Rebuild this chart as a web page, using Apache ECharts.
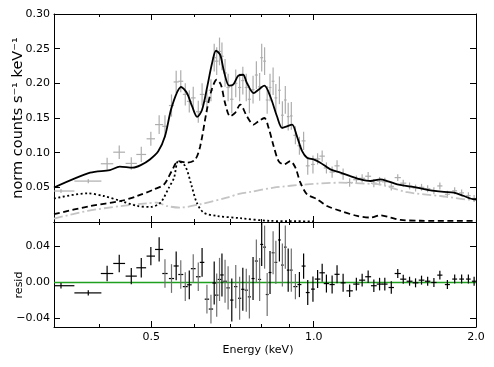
<!DOCTYPE html>
<html>
<head>
<meta charset="utf-8">
<script src="https://cdn.jsdelivr.net/npm/echarts@6/dist/echarts.min.js"></script>
<style>
  html, body { margin: 0; padding: 0; background: #fff; }
  #chart { width: 494px; height: 367px; }
</style>
</head>
<body>
<div id="chart"></div>
<script>
// spectrum bins (keV), half widths
const energy = [0.340,0.382,0.414,0.436,0.459,0.479,0.499,0.517,
  0.530,0.545,0.556,0.567,0.578,0.588,0.598,0.611,0.621,0.634,0.645,
  0.654,0.661,0.669,0.676,0.685,0.694,0.705,0.717,0.729,0.739,0.750,0.760,0.772,0.783,0.794,0.801,0.811,0.820,0.830,0.841,0.851,0.864,0.875,0.886,0.897,0.909,
  0.925,0.941,0.958,0.975,0.997,
  1.017,1.037,1.056,1.082,1.105,1.134,
  1.166,1.200,1.230,1.262,1.293,1.325,1.355,1.393,
  1.432,1.466,1.506,1.545,1.585,1.627,1.671,1.714,1.770,1.826,1.881,1.936,1.984];
const energyErr = [0.020,0.022,0.011,0.011,0.011,0.010,0.009,0.009,
  0.006,0.006,0.006,0.006,0.006,0.006,0.006,0.006,0.006,0.006,0.006,
  0.005,0.005,0.005,0.005,0.005,0.005,0.005,0.005,0.005,0.005,0.005,0.005,0.005,0.005,0.005,0.005,0.005,0.005,0.005,0.005,0.005,0.005,0.005,0.005,0.005,0.005,
  0.008,0.008,0.008,0.008,0.008,
  0.012,0.012,0.012,0.012,0.012,0.012,
  0.016,0.016,0.016,0.016,0.016,0.016,0.016,0.016,
  0.019,0.019,0.019,0.019,0.019,0.019,0.019,0.019,0.019,0.019,0.019,0.019,0.019];

// norm counts s^-1 keV^-1
const counts = [0.0447,0.059,0.084,0.1007,0.0845,0.0974,0.120,0.1405,
  0.138,0.168,0.202,0.203,0.184,0.174,0.179,0.159,0.184,0.174,0.190,
  0.237,0.232,0.246,0.239,0.215,0.194,0.177,0.200,0.194,0.204,0.194,0.177,0.191,0.212,0.195,0.237,0.232,0.176,0.194,0.203,0.179,0.190,0.154,0.176,0.152,0.153,
  0.125,0.110,0.117,0.081,0.083,
  0.091,0.095,0.078,0.072,0.081,0.069,
  0.057,0.061,0.063,0.066,0.056,0.059,0.058,0.0515,
  0.064,0.056,0.052,0.049,0.050,0.048,0.045,0.052,0.040,0.045,0.042,0.038,0.034];
const countsErr = [0.003,0.003,0.0086,0.0097,0.009,0.011,0.010,0.0135,
  0.016,0.016,0.016,0.016,0.016,0.016,0.016,0.016,0.016,0.016,0.016,
  0.020,0.020,0.020,0.020,0.020,0.020,0.020,0.020,0.020,0.020,0.020,0.020,0.020,0.020,0.020,0.020,0.020,0.020,0.020,0.020,0.020,0.020,0.020,0.020,0.020,0.020,
  0.013,0.013,0.013,0.013,0.013,
  0.008,0.008,0.008,0.008,0.008,0.008,
  0.006,0.006,0.006,0.006,0.006,0.006,0.006,0.006,
  0.005,0.005,0.005,0.005,0.005,0.005,0.005,0.005,0.005,0.005,0.005,0.005,0.005];

// residuals
const resid = [-0.004,-0.012,0.0096,0.0208,0.0067,0.016,0.029,0.0364,
  0.0096,0.004,0.018,0.0085,-0.005,-0.003,0.015,0.006,0.022,-0.019,-0.030,
  -0.001,-0.0145,0.003,0.008,0.001,-0.0064,-0.020,-0.005,-0.018,-0.008,-0.009,-0.0164,0.004,0.0235,0.003,0.042,0.039,-0.0138,0.0107,0.0327,0.022,0.047,0.019,0.039,0.0134,0.0134,
  -0.005,-0.0027,0.0179,-0.0116,-0.0078,
  0.0034,0.0104,-0.0016,-0.0027,0.0087,-0.0008,
  -0.0097,-0.0022,0.0022,0.006,-0.004,-0.0022,-0.0022,-0.006,
  0.0096,0.0033,0.001,-0.0008,0.0022,0.001,-0.0004,0.0078,-0.0027,0.0034,0.0034,0.0034,0.001];
const residErr = [0.003,0.003,0.0087,0.0097,0.009,0.0108,0.0102,0.0135,
  0.016,0.016,0.016,0.016,0.016,0.016,0.016,0.016,0.016,0.016,0.016,
  0.024,0.024,0.024,0.024,0.024,0.024,0.024,0.024,0.024,0.024,0.024,0.024,0.024,0.024,0.024,0.024,0.024,0.024,0.024,0.024,0.024,0.024,0.024,0.024,0.024,0.024,
  0.014,0.014,0.014,0.014,0.014,
  0.010,0.010,0.010,0.010,0.010,0.010,
  0.007,0.007,0.007,0.007,0.007,0.007,0.007,0.007,
  0.005,0.005,0.005,0.005,0.005,0.005,0.005,0.005,0.005,0.005,0.005,0.005,0.005];

// model components
const totalE = [0.330,0.385,0.419,0.437,0.462,0.478,0.497,0.515,0.530,0.546,0.568,0.582,0.595,0.608,0.621,0.635,0.648,0.659,0.671,0.682,0.697,0.709,0.725,0.740,0.752,0.774,0.790,0.810,0.831,0.855,0.874,0.892,0.912,0.931,0.952,0.972,1.000,1.029,1.074,1.121,1.170,1.221,1.275,1.330,1.369,1.429,1.491,1.556,1.647,1.744,1.820,1.900,1.983,2.000];
const totalV = [0.0496,0.0711,0.0749,0.0798,0.0783,0.082,0.0902,0.102,0.1237,0.1668,0.1947,0.186,0.167,0.1516,0.162,0.1956,0.229,0.247,0.241,0.217,0.1966,0.198,0.211,0.2124,0.2004,0.186,0.1908,0.1966,0.181,0.1525,0.1358,0.138,0.1405,0.1237,0.1021,0.0927,0.0902,0.0855,0.0759,0.0711,0.0662,0.0615,0.0591,0.0615,0.0591,0.0543,0.0519,0.0496,0.0457,0.0433,0.0424,0.0375,0.0328,0.0328];
const dashedE = [0.330,0.385,0.439,0.471,0.506,0.528,0.5455,0.561,0.582,0.603,0.616,0.634,0.647,0.661,0.673,0.685,0.700,0.715,0.731,0.752,0.774,0.790,0.810,0.825,0.843,0.861,0.880,0.905,0.925,0.945,0.972,1.015,1.059,1.121,1.204,1.275,1.330,1.388,1.449,1.579,2.000];
const dashedV = [0.0112,0.023,0.0303,0.0375,0.0471,0.0543,0.0734,0.0878,0.0855,0.090,0.1093,0.162,0.1908,0.2052,0.198,0.1717,0.1525,0.1573,0.1693,0.1525,0.1405,0.1453,0.150,0.1358,0.1093,0.0878,0.083,0.0878,0.0783,0.0567,0.040,0.0328,0.0231,0.016,0.0088,0.0064,0.0097,0.0064,0.003,0.0018,0.0016];
const dottedE = [0.330,0.381,0.408,0.439,0.471,0.499,0.520,0.539,0.551,0.561,0.578,0.594,0.607,0.625,0.661,0.731,0.831,1.000];
const dottedV = [0.0338,0.0414,0.0375,0.0303,0.0231,0.0217,0.028,0.0496,0.0639,0.0878,0.0806,0.0519,0.028,0.0136,0.0088,0.0055,0.0016,0.001];
const dashDotE = [0.330,0.381,0.439,0.492,0.512,0.535,0.565,0.616,0.690,0.731,0.763,0.843,0.972,1.121,1.275,1.330,1.491,1.720,1.983,2.000];
const dashDotV = [0.005,0.016,0.023,0.027,0.028,0.023,0.0208,0.0256,0.0352,0.041,0.0433,0.0496,0.0543,0.0567,0.055,0.054,0.043,0.0375,0.032,0.032];

// axis ticks (keV)
const xRange = [0.33, 2.0];
const xMajorTicks = [0.5, 1.0, 2.0];
const xMinorTicks = [0.4, 0.6, 0.7, 0.8, 0.9];
const residTicks = [-0.04, 0, 0.04];

// energy axis is logarithmic: positions go through log10
const lg = Math.log10;
const font = { fontFamily: 'DejaVu Sans', fontSize: 11, color: '#000' };
const line = (xs, ys) => xs.map((x, i) => [lg(x), ys[i]]);

function errorBars(colorFn) {
    return function (params, api) {
        const x = api.value(0), y = api.value(1);
        const x0 = api.value(2), x1 = api.value(3), dy = api.value(4);
        const l = api.coord([x0, y]), r = api.coord([x1, y]);
        const b = api.coord([x, y - dy]), t = api.coord([x, y + dy]);
        const c = colorFn(params.dataIndex, Math.pow(10, x));
        return {
            type: 'group',
            children: [
                { type: 'line', shape: { x1: l[0], y1: l[1], x2: r[0], y2: r[1] }, style: { stroke: c.h, lineWidth: 1.2 } },
                { type: 'line', shape: { x1: b[0], y1: b[1], x2: t[0], y2: t[1] }, style: { stroke: c.v, lineWidth: 1.2 } }
            ]
        };
    };
}

function xAxis(grid, position, minor, extra) {
    return Object.assign({
        type: 'value', min: lg(xRange[0]), max: lg(xRange[1]), gridIndex: grid, position: position,
        axisLine: { show: !minor, onZero: false, lineStyle: { color: '#000', width: 1 } },
        axisTick: { inside: true, length: minor ? 3 : 6, lineStyle: { color: '#000' },
                    customValues: (minor ? xMinorTicks : xMajorTicks).map(lg) },
        axisLabel: { show: false },
        splitLine: { show: false }
    }, extra || {});
}

function yAxis(grid, position, extra) {
    return Object.assign({
        type: 'value', gridIndex: grid, position: position,
        axisLine: { show: true, onZero: false, lineStyle: { color: '#000', width: 1 } },
        axisTick: { inside: true, length: 6, lineStyle: { color: '#000' } },
        axisLabel: { show: false },
        splitLine: { show: false }
    }, extra || {});
}

const topY = { min: 0, max: 0.30, interval: 0.05 };
const resY = { min: -0.05, max: 0.067 };
const resTick = { inside: true, length: 6, lineStyle: { color: '#000' }, customValues: residTicks };
const resFmt = v => (v < 0 ? '\u2212' + (-v).toFixed(2) : v.toFixed(2));

const chart = echarts.init(document.getElementById('chart'));
chart.setOption({
    animation: false,
    grid: [
        { left: 54, right: 18, top: 14, height: 208, containLabel: false, outerBoundsMode: 'none' },
        { left: 54, right: 18, top: 222, height: 105, containLabel: false, outerBoundsMode: 'none' }
    ],
    xAxis: [
        xAxis(0, 'bottom', false),
        xAxis(0, 'top', false),
        xAxis(1, 'bottom', false, {
            axisLabel: Object.assign({ show: true, margin: 5, customValues: xMajorTicks.map(lg),
                formatter: v => Math.pow(10, v).toFixed(1) }, font),
            name: '{t|Energy (keV)}', nameLocation: 'middle', nameGap: 18, nameMoveOverlap: false,
            nameTextStyle: { rich: { t: Object.assign({ padding: [0, 14, 0, 0] }, font) } }
        }),
        xAxis(1, 'top', false),
        xAxis(0, 'bottom', true),
        xAxis(0, 'top', true),
        xAxis(1, 'bottom', true),
        xAxis(1, 'top', true)
    ],
    yAxis: [
        yAxis(0, 'left', Object.assign({}, topY, {
            axisLabel: Object.assign({ show: true, margin: 4, showMinLabel: false,
                formatter: v => v.toFixed(2) }, font),
            name: 'norm counts s\u207B\u00B9 keV\u207B\u00B9', nameLocation: 'middle', nameGap: 28,
            nameMoveOverlap: false,
            nameTextStyle: Object.assign({}, font, { fontSize: 14.5 })
        })),
        yAxis(0, 'right', topY),
        yAxis(1, 'left', Object.assign({}, resY, {
            axisTick: resTick,
            axisLabel: Object.assign({ show: true, margin: 4, customValues: residTicks, formatter: resFmt }, font),
            name: 'resid', nameLocation: 'middle', nameGap: 29, nameMoveOverlap: false,
            nameTextStyle: Object.assign({ padding: [0, 21, 0, 0] }, font)
        })),
        yAxis(1, 'right', Object.assign({}, resY, { axisTick: resTick }))
    ],
    series: [
        {
            type: 'custom', name: 'data', xAxisIndex: 0, yAxisIndex: 0, clip: true, z: 2,
            renderItem: errorBars(() => ({ h: '#adadad', v: '#adadad' })),
            encode: { x: 0, y: 1 },
            data: energy.map((e, i) => [lg(e), counts[i], lg(e - energyErr[i]), lg(e + energyErr[i]), countsErr[i]])
        },
        {
            type: 'line', name: 'dashdot', xAxisIndex: 0, yAxisIndex: 0, showSymbol: false, smooth: 0.3, z: 3,
            lineStyle: { color: '#c4c4c4', width: 1.8, type: [9, 3, 2, 3] },
            data: line(dashDotE, dashDotV)
        },
        {
            type: 'line', name: 'dotted', xAxisIndex: 0, yAxisIndex: 0, showSymbol: false, smooth: 0.3, z: 4,
            lineStyle: { color: '#000', width: 1.8, type: [2, 2.5] },
            data: line(dottedE, dottedV)
        },
        {
            type: 'line', name: 'dashed', xAxisIndex: 0, yAxisIndex: 0, showSymbol: false, smooth: 0.3, z: 4,
            lineStyle: { color: '#000', width: 1.8, type: [6, 3.5] },
            data: line(dashedE, dashedV)
        },
        {
            type: 'line', name: 'total', xAxisIndex: 0, yAxisIndex: 0, showSymbol: false, smooth: 0.3, z: 5,
            lineStyle: { color: '#000', width: 1.8 },
            data: line(totalE, totalV)
        },
        {
            type: 'custom', name: 'resid', xAxisIndex: 2, yAxisIndex: 2, clip: true, z: 3,
            renderItem: errorBars((i, e) => ({
                h: '#000',
                v: (e > 0.525 && e < 0.93 && i % 3 !== 1) ? '#707070' : '#000'
            })),
            encode: { x: 0, y: 1 },
            data: energy.map((e, i) => [lg(e), resid[i], lg(e - energyErr[i]), lg(e + energyErr[i]), residErr[i]]),
            markLine: {
                silent: true, symbol: 'none', label: { show: false }, z: 1,
                lineStyle: { color: '#1fa01f', width: 1.3, type: 'solid' },
                data: [{ yAxis: 0 }]
            }
        }
    ]
});
</script>
</body>
</html>
